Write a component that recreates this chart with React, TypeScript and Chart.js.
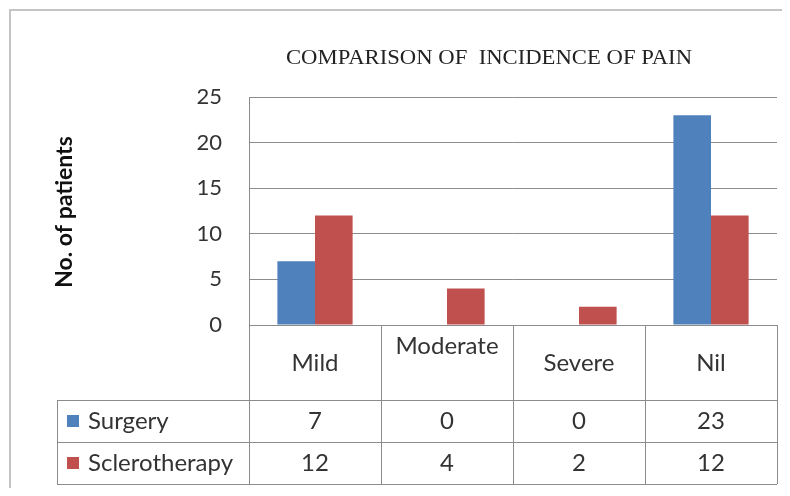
import React, { useEffect, useRef } from "react";
import { Chart, registerables } from "chart.js";

Chart.register(...registerables);

const categories = ["Mild", "Moderate", "Severe", "Nil"];
const surgery = [7, 0, 0, 23];
const sclerotherapy = [12, 4, 2, 12];
const seriesNames = ["Surgery", "Sclerotherapy"];
const yTicks = [0, 5, 10, 15, 20, 25];
const chartTitle = "COMPARISON OF  INCIDENCE OF PAIN";
const yTitle = "No. of patients";

const BLUE = "#4F81BD";
const RED = "#C0504D";
const GRID = "#8c8c8c";
const TEXT = "#333333";
const FONT = "Lato, 'Open Sans', sans-serif";

const drawPlugin = {
  id: "drawPlugin",
  beforeDraw(chart: any) {
    const ctx = chart.ctx;
    ctx.save();
    ctx.fillStyle = "#ffffff";
    ctx.fillRect(0, 0, chart.width, chart.height);
    ctx.strokeStyle = "#c4c4c4";
    ctx.lineWidth = 2;
    ctx.beginPath();
    ctx.moveTo(2, chart.height + 5);
    ctx.lineTo(2, 2);
    ctx.lineTo(chart.width + 5, 2);
    ctx.stroke();
    ctx.restore();
  },
  afterDraw(chart: any) {
    const ctx = chart.ctx;
    const area = chart.chartArea;
    const xs = chart.scales.x;
    ctx.save();
    // title
    ctx.save();
    ctx.translate(481, 50);
    ctx.scale(1.08, 1);
    ctx.fillStyle = "#222";
    ctx.font = "21px 'Liberation Serif', serif";
    ctx.textAlign = "center";
    ctx.textBaseline = "middle";
    ctx.fillText(chartTitle, 0, 0);
    ctx.restore();

    // y title
    ctx.save();
    ctx.translate(57, 204);
    ctx.rotate(-Math.PI / 2);
    ctx.font = "bold 23px " + FONT;
    ctx.fillStyle = "#111";
    ctx.textAlign = "center";
    ctx.textBaseline = "middle";
    ctx.fillText(yTitle, 0, 0);
    ctx.restore();

    const n = categories.length;
    const colW = (area.right - area.left) / n;
    const headerBottom = area.bottom + 75;
    const rowH = 42;
    const legendLeft = 49;
    const tableBottom = headerBottom + rowH * 2;

    ctx.strokeStyle = GRID;
    ctx.lineWidth = 1;
    ctx.beginPath();
    for (let i = 0; i <= n; i++) {
      const x = Math.round(area.left + i * colW) + 0.5;
      ctx.moveTo(x, area.bottom);
      ctx.lineTo(x, tableBottom);
    }
    const hl = [headerBottom, headerBottom + rowH, tableBottom];
    hl.forEach((y) => {
      ctx.moveTo(legendLeft, Math.round(y) + 0.5);
      ctx.lineTo(area.right, Math.round(y) + 0.5);
    });
    ctx.moveTo(legendLeft + 0.5, headerBottom);
    ctx.lineTo(legendLeft + 0.5, tableBottom);
    ctx.stroke();

    ctx.fillStyle = TEXT;
    ctx.font = "24px " + FONT;
    ctx.textAlign = "center";
    ctx.textBaseline = "middle";
    categories.forEach((c, i) => {
      const x = xs.getPixelForValue(i);
      const y = c === "Moderate" ? area.bottom + 21 : area.bottom + 38;
      ctx.fillText(c, x, y);
    });

    const rows = [surgery, sclerotherapy];
    const colors = [BLUE, RED];
    rows.forEach((vals, r) => {
      const yc = headerBottom + rowH * r + rowH / 2;
      ctx.fillStyle = colors[r];
      ctx.fillRect(legendLeft + 10, yc - 6, 12, 12);
      ctx.fillStyle = TEXT;
      ctx.textAlign = "left";
      ctx.fillText(seriesNames[r], legendLeft + 31, yc);
      ctx.textAlign = "center";
      vals.forEach((v, i) => {
        ctx.fillText(String(v), xs.getPixelForValue(i), yc);
      });
    });
    ctx.restore();
  },
};

export default function App() {
  const ref = useRef<HTMLCanvasElement | null>(null);
  useEffect(() => {
    if (!ref.current) return;
    const chart = new Chart(ref.current, {
      type: "bar",
      data: {
        labels: categories,
        datasets: [
          { label: seriesNames[0], data: surgery, backgroundColor: BLUE },
          { label: seriesNames[1], data: sclerotherapy, backgroundColor: RED },
        ],
      },
      options: {
        responsive: false,
        animation: false,
        events: [],
        layout: { padding: { top: 89, right: 5, bottom: 163, left: 0 } },
        datasets: { bar: { categoryPercentage: 0.57, barPercentage: 1 } },
        plugins: { legend: { display: false }, title: { display: false }, tooltip: { enabled: false } },
        scales: {
          x: { display: false },
          y: {
            min: 0,
            max: 25,
            afterBuildTicks: (scale: any) => {
              scale.ticks = yTicks.map((v) => ({ value: v }));
            },
            afterFit: (scale: any) => {
              scale.width = 241;
            },
            grid: { color: GRID, drawTicks: false, lineWidth: 1 },
            border: { color: GRID },
            ticks: {
              padding: 27,
              color: TEXT,
              font: { family: FONT, size: 22 },
            },
          },
        },
      },
      plugins: [drawPlugin],
    });
    return () => chart.destroy();
  }, []);
  return <canvas ref={ref} width={774} height={480} style={{ display: "block" }} />;
}
